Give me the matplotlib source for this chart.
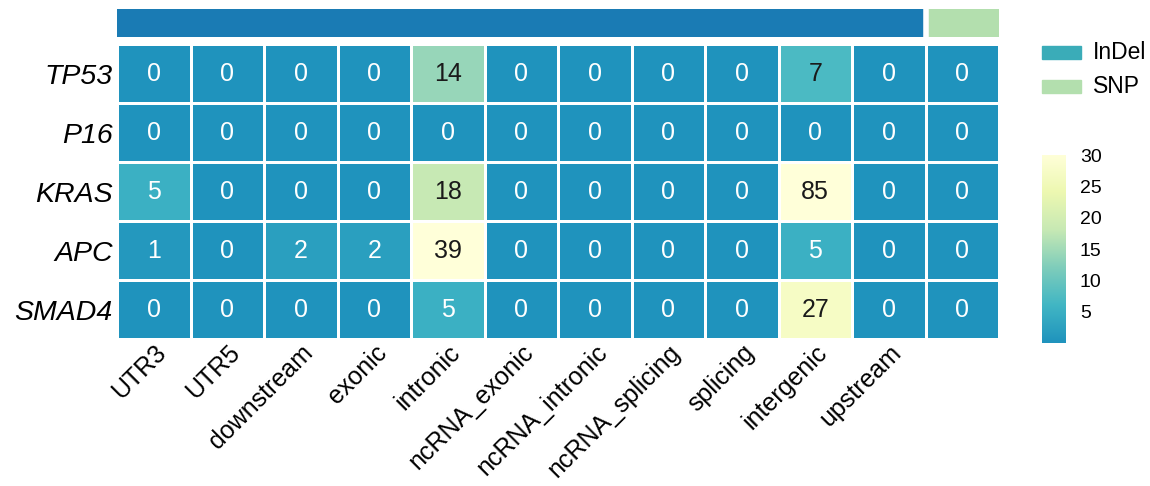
import numpy as np
import matplotlib
matplotlib.use("Agg")
import matplotlib.pyplot as plt
from matplotlib.colors import LinearSegmentedColormap, Normalize
from matplotlib.patches import Rectangle

plt.rcParams["font.family"] = ["Liberation Sans", "DejaVu Sans"]

## data
genes = ["TP53", "P16", "KRAS", "APC", "SMAD4"]
regions = ["UTR3", "UTR5", "downstream", "exonic", "intronic", "ncRNA_exonic",
           "ncRNA_intronic", "ncRNA_splicing", "splicing", "intergenic", "upstream"]
counts = [
    [0, 0, 0, 0, 14, 0, 0, 0, 0, 7, 0, 0],
    [0, 0, 0, 0, 0, 0, 0, 0, 0, 0, 0, 0],
    [5, 0, 0, 0, 18, 0, 0, 0, 0, 85, 0, 0],
    [1, 0, 2, 2, 39, 0, 0, 0, 0, 5, 0, 0],
    [0, 0, 0, 0, 5, 0, 0, 0, 0, 27, 0, 0],
]
var_types = ["InDel"] * 11 + ["SNP"]
type_colors = {"InDel": "#1a7bb4", "SNP": "#b3dfae"}
legend_colors = {"InDel": "#3aacb8", "SNP": "#b3dfae"}
cbar_ticks = [5, 10, 15, 20, 25, 30]

cmap = LinearSegmentedColormap.from_list(
    "ylgnbu_part", ["#1f93bd", "#41b6c4", "#7fcdbb", "#c7e9b4", "#edf8b1", "#ffffd9"])
norm = Normalize(vmin=0, vmax=30)

W, H = 1150, 486
fig = plt.figure(figsize=(W / 100, H / 100), dpi=100)


def px_axes(x0, y0, x1, y1):
    return fig.add_axes([x0 / W, 1 - y1 / H, (x1 - x0) / W, (y1 - y0) / H])


data = np.array(counts, dtype=float)
nrow, ncol = data.shape

# main heatmap
ax = px_axes(117, 44, 999, 339)
ax.pcolormesh(np.clip(data, 0, 30), cmap=cmap, norm=norm,
              edgecolor="white", linewidth=1.8)
ax.set_xlim(0, ncol)
ax.set_ylim(nrow, 0)
for i in range(nrow):
    for j in range(ncol):
        v = counts[i][j]
        ax.text(j + 0.5, i + 0.5, str(v), ha="center", va="center", fontsize=18,
                color="#1a1a1a" if v >= 7 else "white")
ax.set_yticks(np.arange(nrow) + 0.5)
ax.set_yticklabels(genes, fontsize=20.5, style="italic")
ax.set_xticks(np.arange(len(regions)) + 0.5)
ax.set_xticklabels(regions, fontsize=18, rotation=45, ha="right",
                   rotation_mode="anchor")
ax.tick_params(axis="y", length=0, pad=3)
ax.tick_params(axis="x", length=0, pad=1)
for s in ax.spines.values():
    s.set_visible(False)

# top annotation bar
ax_top = px_axes(117, 9, 999, 37)
for j, t in enumerate(var_types):
    ax_top.bar(j + 0.5, 1, width=1, color=type_colors[t], edgecolor=type_colors[t],
               linewidth=0)
ax_top.axvline(11, color="white", linewidth=4)
ax_top.set_xlim(0, ncol)
ax_top.set_ylim(0, 1)
ax_top.axis("off")

# legend
ax_leg = px_axes(1030, 40, 1150, 100)
ax_leg.set_xlim(1030, 1150)
ax_leg.set_ylim(100, 40)
ax_leg.axis("off")
for k, t in enumerate(["InDel", "SNP"]):
    y = 46 + k * 34
    ax_leg.add_patch(Rectangle((1042, y), 39, 13, color=legend_colors[t]))
    ax_leg.text(1093, y + 6.5, t, fontsize=16.5, va="center", ha="left")

# colorbar
ax_cb = px_axes(1042, 155, 1066, 343)
grad = np.linspace(0, 30, 256).reshape(-1, 1)
ax_cb.imshow(grad, aspect="auto", cmap=cmap, norm=norm, origin="lower",
             extent=[0, 1, 0, 30])
ax_cb.set_xticks([])
ax_cb.yaxis.tick_right()
ax_cb.set_yticks(cbar_ticks)
ax_cb.set_yticklabels([str(t) for t in cbar_ticks], fontsize=14)
ax_cb.tick_params(length=0, pad=10)
for s in ax_cb.spines.values():
    s.set_visible(False)

fig.savefig("out.png", dpi=100)
